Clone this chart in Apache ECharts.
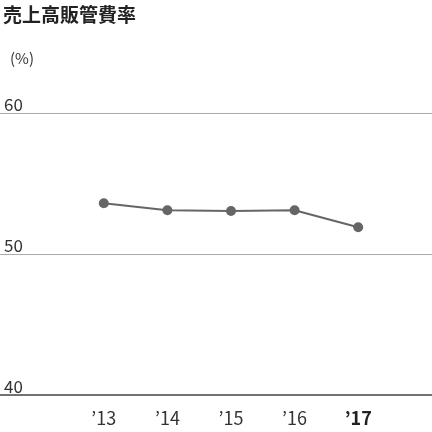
<!DOCTYPE html>
<html><head><meta charset="utf-8">
<script src="https://cdn.jsdelivr.net/npm/echarts@6/dist/echarts.min.js"></script>
<style>html,body{margin:0;padding:0;background:#fff}#c{width:432px;height:432px}</style>
</head><body><div id="c"></div>
<script>
var years = ["’13", "’14", "’15", "’16", "’17"];
var ratio = [53.6, 53.1, 53.05, 53.1, 51.9];
var yTicks = [40, 50, 60];

var myChart = echarts.init(document.getElementById('c'));
var font = '"Noto Sans CJK JP", sans-serif';
var option = {
    animation: false,
    title: [
        {text: '売上高販管費率', left: -2, top: 0, textStyle: {fontFamily: font, fontSize: 19, fontWeight: 'bold', color: '#222'}},
        {text: '(%)', left: 5, top: 46, textStyle: {fontFamily: font, fontSize: 15, fontWeight: 'normal', color: '#333'}}
    ],
    grid: [
        {left: 0, right: 0, top: 113, bottom: 37},
        {left: 72, width: 318, top: 113, bottom: 37}
    ],
    xAxis: [
        {gridIndex: 0, type: 'value', show: false, min: 0, max: 1},
        {
            gridIndex: 1, type: 'category', data: years,
            axisLine: {show: false}, axisTick: {show: false},
            axisLabel: {
                interval: 0, margin: 14, fontFamily: font, fontSize: 18, color: '#333',
                formatter: function (v, i) { return i === years.length - 1 ? '{b|' + v + '}' : v; },
                rich: {b: {fontWeight: 'bold', fontFamily: font, fontSize: 18, color: '#222'}}
            }
        }
    ],
    yAxis: [
        {
            gridIndex: 0, type: 'value', min: yTicks[0], max: yTicks[2], interval: 10,
            axisLine: {show: false}, axisTick: {show: false},
            axisLabel: {inside: true, margin: 4, verticalAlign: 'bottom', fontFamily: font, fontSize: 17, color: '#333'},
            splitLine: {lineStyle: {color: '#aaa', width: 1}}
        },
        {gridIndex: 1, type: 'value', min: yTicks[0], max: yTicks[2], show: false}
    ],
    series: [
        {
            type: 'line', xAxisIndex: 1, yAxisIndex: 1, data: ratio,
            symbol: 'circle', symbolSize: 10,
            lineStyle: {color: '#666', width: 2},
            itemStyle: {color: '#666'}
        },
        {
            type: 'line', xAxisIndex: 0, yAxisIndex: 0, data: [[0, 40], [1, 40]],
            symbol: 'none', lineStyle: {color: '#444', width: 1.5}, silent: true
        }
    ]
};
myChart.setOption(option);
</script>
</body></html>
